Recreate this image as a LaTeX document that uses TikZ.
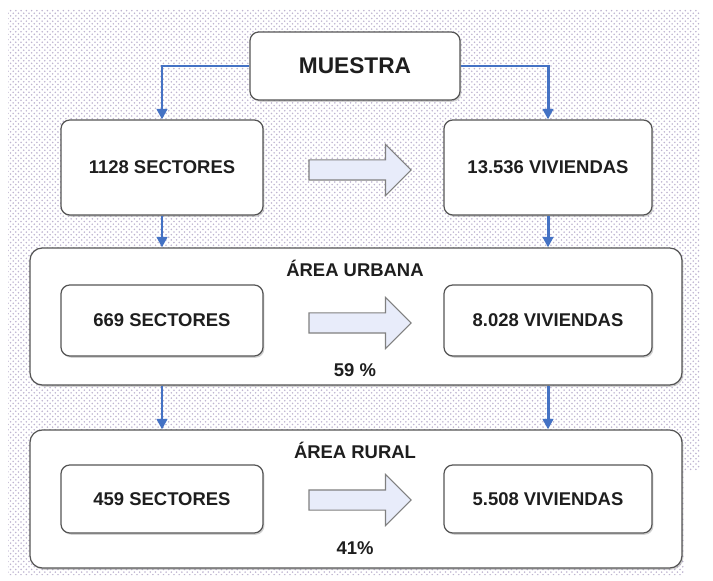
\documentclass[tikz,border=0pt]{standalone}
\usepackage{fontspec}
\setmainfont{Liberation Sans}
\usetikzlibrary{arrows.meta,shadows,patterns,shapes.arrows}
\definecolor{azulflecha}{RGB}{68,114,196}
\definecolor{borde}{RGB}{85,85,85}
\definecolor{relleno}{RGB}{232,236,250}
\definecolor{puntos}{RGB}{190,180,208}
\definecolor{texto}{RGB}{30,30,30}
\tikzset{
caja/.style={draw=borde,line width=0.7pt,rounded corners=5pt,fill=white,text=texto,
  drop shadow={opacity=0.35,shadow xshift=0.8pt,shadow yshift=-1pt},
  font=\bfseries\fontsize{10.5}{12}\selectfont,inner sep=0pt},
area/.style={caja,rounded corners=7pt},
azul/.style={draw=azulflecha,line width=1.7pt,-{Triangle[length=6pt,width=6pt]}},
gruesa/.style={single arrow,draw=gray,line width=0.6pt,fill=relleno,minimum height=2.04cm,
  single arrow head extend=0.31cm,inner sep=0.19cm},
titulo/.style={text=texto,font=\bfseries\fontsize{10.5}{12}\selectfont},
}
\begin{document}
\begin{tikzpicture}%Muestra por area
\useasboundingbox (0,0) rectangle (14.26,11.6);
\fill[pattern=crosshatch dots,pattern color=puntos] (0.16,11.4) -- (14.0,11.4) -- (14.0,2.2) -- (13.68,2.2) -- (13.68,0.1) -- (0.16,0.1) -- cycle;
% cajas grandes
\node[area,minimum width=13.04cm,minimum height=2.74cm] (urbana) at (7.12,5.27){};
\node[area,minimum width=13.04cm,minimum height=2.76cm] (rural) at (7.12,1.62){};
\node[titulo] (turbana) at (7.1,6.24){ÁREA URBANA};
\node[titulo] (trural) at (7.1,2.6){ÁREA RURAL};
% muestra
\node[caja,minimum width=4.2cm,minimum height=1.36cm,font=\bfseries\fontsize{12.9}{15}\selectfont] (muestra) at (7.1,10.28){MUESTRA};
\node[caja,minimum width=4.04cm,minimum height=1.9cm] (s1128) at (3.24,8.25){1128 SECTORES};
\node[caja,minimum width=4.16cm,minimum height=1.9cm] (v13536) at (10.96,8.25){13.536 VIVIENDAS};
\node[gruesa] (f1) at (7.1,8.2){};
% urbana
\node[caja,minimum width=4.04cm,minimum height=1.42cm] (s669) at (3.24,5.19){669 SECTORES};
\node[caja,minimum width=4.16cm,minimum height=1.42cm] (v8028) at (10.96,5.19){8.028 VIVIENDAS};
\node[gruesa] (f2) at (7.1,5.14){};
\node[titulo] (p59) at (7.1,4.2){59 \%};
% rural
\node[caja,minimum width=4.04cm,minimum height=1.36cm] (s459) at (3.24,1.62){459 SECTORES};
\node[caja,minimum width=4.16cm,minimum height=1.36cm] (v5508) at (10.96,1.62){5.508 VIVIENDAS};
\node[gruesa] (f3) at (7.1,1.6){};
\node[titulo] (p41) at (7.1,0.64){41\%};
% flechas azules
\draw[azul] (muestra.west) -| (s1128.north);
\draw[azul] (muestra.east) -| (v13536.north);
\draw[azul] (s1128.south) -- (s1128.south |- urbana.north);
\draw[azul] (v13536.south) -- (v13536.south |- urbana.north);
\draw[azul] (s1128.south |- urbana.south) -- (s1128.south |- rural.north);
\draw[azul] (v13536.south |- urbana.south) -- (v13536.south |- rural.north);
\end{tikzpicture}
\end{document}
